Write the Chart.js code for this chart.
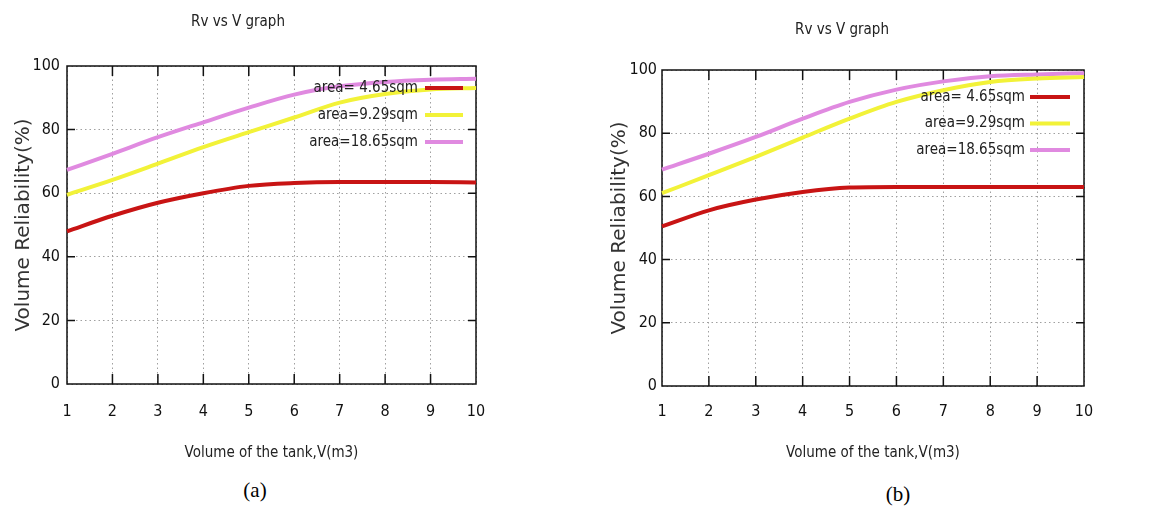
<!DOCTYPE html>
<html>
<head>
<meta charset="utf-8">
<script src="https://cdn.jsdelivr.net/npm/chart.js@4.4.0/dist/chart.umd.min.js"></script>
<style>
  html, body { margin: 0; padding: 0; background: #fff; width: 1151px; height: 513px; overflow: hidden; }
  canvas { position: absolute; top: 0; }
  #cA { left: 0px; }
  #cB { left: 600px; }
  .cap { position: absolute; font-family: 'Liberation Serif', 'Times New Roman', serif; font-size: 21px; color: #000; transform: translate(-50%, -50%); }
</style>
</head>
<body>
<canvas id="cA" width="544" height="470"></canvas>
<canvas id="cB" width="546" height="470"></canvas>
<div class="cap" style="left:255px; top:490px;">(a)</div>
<div class="cap" style="left:898px; top:494px;">(b)</div>
<script>
// ---- data ----
const volumes = ['1', '2', '3', '4', '5', '6', '7', '8', '9', '10'];
const yTicks = [0, 20, 40, 60, 80, 100];
const seriesLabels = ['area= 4.65sqm', 'area=9.29sqm', 'area=18.65sqm'];
const chartTitle = 'Rv vs V graph';
const xTitle = 'Volume of the tank,V(m3)';
const yTitle = 'Volume Reliability(%)';

// chart (a)
const aArea465 = [48.0, 52.9, 57.0, 60.0, 62.3, 63.2, 63.5, 63.5, 63.5, 63.4];
const aArea929 = [59.5, 64.2, 69.3, 74.5, 79.2, 83.8, 88.5, 91.2, 92.6, 93.1];
const aArea1865 = [67.3, 72.4, 77.6, 82.3, 86.9, 91.0, 93.6, 95.0, 95.7, 96.0];

// chart (b)
const bArea465 = [50.5, 55.6, 59.0, 61.4, 62.8, 63.0, 63.0, 63.0, 63.0, 63.0];
const bArea929 = [61.0, 66.7, 72.5, 78.6, 84.6, 89.9, 93.6, 96.2, 97.3, 97.8];
const bArea1865 = [68.5, 73.5, 78.8, 84.6, 89.9, 93.8, 96.4, 98.0, 98.6, 99.0];

// ---- styling ----
const colors = ['#c81414', '#f2f238', '#e08ae0'];
const NARROW = "'DejaVu Sans Condensed', 'Liberation Sans Narrow', sans-serif";

const framePlugin = {
  id: 'gnuFrame',
  beforeDatasetsDraw(chart) {
    const {ctx, chartArea: a, scales} = chart;
    ctx.save();
    ctx.strokeStyle = '#111';
    ctx.lineWidth = 1.5;
    ctx.strokeRect(a.left, a.top, a.right - a.left, a.bottom - a.top);
    ctx.beginPath();
    for (let i = 1; i < volumes.length - 1; i++) {
      const x = scales.x.getPixelForValue(i);
      ctx.moveTo(x, a.bottom); ctx.lineTo(x, a.bottom - 10);
      ctx.moveTo(x, a.top); ctx.lineTo(x, a.top + 10);
    }
    for (let k = 1; k < yTicks.length - 1; k++) {
      const y = scales.y.getPixelForValue(yTicks[k]);
      ctx.moveTo(a.left, y); ctx.lineTo(a.left + 8, y);
      ctx.moveTo(a.right, y); ctx.lineTo(a.right - 8, y);
    }
    ctx.stroke();
    ctx.restore();
  },
  afterDatasetsDraw(chart, args, opts) {
    const {ctx, chartArea: a} = chart;
    ctx.save();
    ctx.font = '15px ' + NARROW;
    ctx.textAlign = 'right';
    ctx.textBaseline = 'middle';
    chart.data.datasets.forEach((ds, i) => {
      const y = a.top + opts.rowTop + i * opts.rowGap;
      ctx.fillStyle = '#222';
      ctx.fillText(ds.label, a.right - opts.textRight, y);
      ctx.strokeStyle = ds.borderColor;
      ctx.lineWidth = 4;
      ctx.beginPath();
      ctx.moveTo(a.right - opts.lineStart, y);
      ctx.lineTo(a.right - opts.lineEnd, y);
      ctx.stroke();
    });
    ctx.restore();
  }
};

function makeChart(id, series, L) {
  const datasets = series.map((vals, i) => ({
    label: seriesLabels[i],
    data: vals,
    borderColor: colors[i],
    backgroundColor: colors[i],
    borderWidth: 4,
    pointRadius: 0,
    cubicInterpolationMode: 'monotone',
    fill: false
  }));
  return new Chart(document.getElementById(id), {
    type: 'line',
    data: { labels: volumes, datasets },
    plugins: [framePlugin],
    options: {
      responsive: false,
      maintainAspectRatio: false,
      animation: false,
      devicePixelRatio: 1,
      layout: { padding: { left: 0, right: L.padRight, top: 0, bottom: 0 } },
      plugins: {
        legend: { display: false },
        tooltip: { enabled: false },
        title: {
          display: true,
          text: chartTitle,
          color: '#222',
          font: { family: NARROW, size: 15, weight: 'normal', lineHeight: 1.2 },
          padding: { top: L.titleTop, bottom: L.titleBottom }
        },
        gnuFrame: L.legend
      },
      scales: {
        x: {
          type: 'category',
          offset: false,
          grid: { color: '#a0a0a0', lineWidth: 1, drawTicks: false },
          border: { display: false, dash: [1.5, 3] },
          ticks: { color: '#111', font: { family: NARROW, size: 16, lineHeight: 1.2 }, padding: L.xTickPad, maxRotation: 0, autoSkip: false },
          title: { display: true, text: xTitle, color: '#222', font: { family: NARROW, size: 15, lineHeight: 1.2 }, padding: { top: 0, bottom: L.xTitlePad } },
          afterFit: s => { s.height = L.xHeight; }
        },
        y: {
          min: 0, max: 100,
          afterBuildTicks: s => { s.ticks = yTicks.map(v => ({ value: v })); },
          grid: { color: '#a0a0a0', lineWidth: 1, drawTicks: false },
          border: { display: false, dash: [1.5, 3] },
          ticks: { color: '#111', font: { family: NARROW, size: 16, lineHeight: 1.2 }, padding: L.yTickPad },
          title: { display: true, text: yTitle, color: '#333', font: { family: "'DejaVu Sans', Verdana, sans-serif", size: 20, lineHeight: 1.2 }, padding: { top: L.yTitlePad, bottom: 0 } },
          afterFit: s => { s.width = L.yWidth; }
        }
      }
    }
  });
}

makeChart('cA', [aArea465, aArea929, aArea1865], {
  padRight: 68, titleTop: 13, titleBottom: 35,
  yWidth: 67, yTitlePad: 12, yTickPad: 7,
  xHeight: 86, xTickPad: 18.5, xTitlePad: 8,
  legend: { rowTop: 22, rowGap: 27, textRight: 58, lineStart: 51, lineEnd: 13 }
});

makeChart('cB', [bArea465, bArea929, bArea1865], {
  padRight: 62, titleTop: 21, titleBottom: 31,
  yWidth: 62, yTitlePad: 8, yTickPad: 5,
  xHeight: 84, xTickPad: 16, xTitlePad: 7.7,
  legend: { rowTop: 27, rowGap: 26.5, textRight: 59, lineStart: 54, lineEnd: 14 }
});
</script>
</body>
</html>
